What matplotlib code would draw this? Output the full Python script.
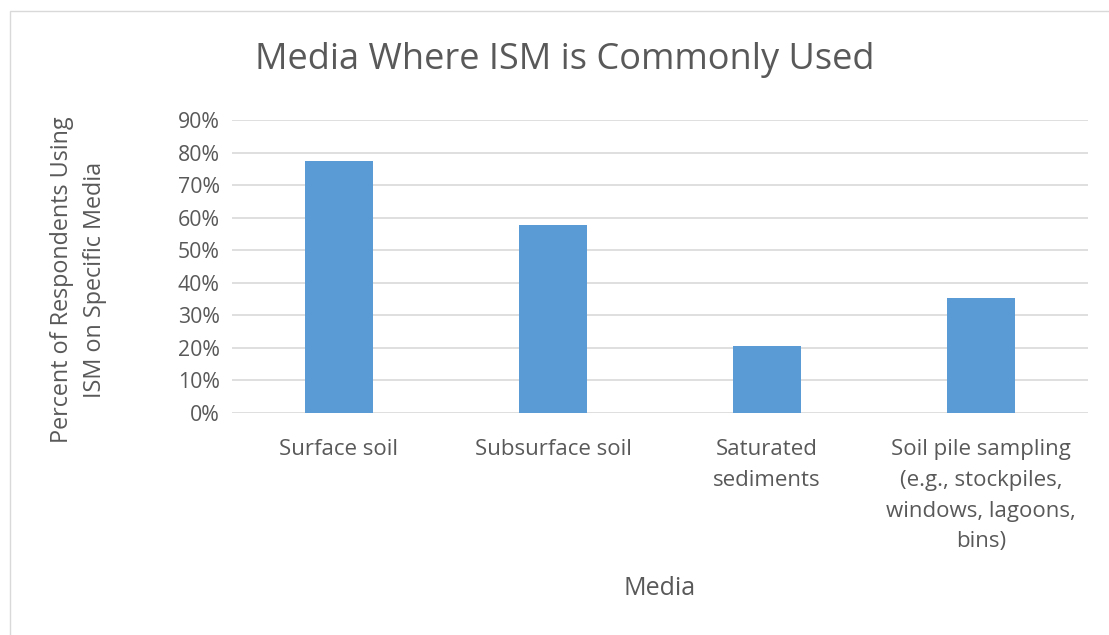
import matplotlib.pyplot as plt
from matplotlib.patches import Rectangle

# data
categories = ["Surface soil", "Subsurface soil", "Saturated\nsediments",
              "Soil pile sampling\n(e.g., stockpiles,\nwindows, lagoons,\nbins)"]
percents = [0.773, 0.578, 0.207, 0.354]
yticks = [0.0, 0.1, 0.2, 0.3, 0.4, 0.5, 0.6, 0.7, 0.8, 0.9]

plt.rcParams['font.family'] = ['Open Sans', 'DejaVu Sans']
text_col = '#595959'

fig = plt.figure(figsize=(11.09, 6.35), dpi=100)
ax = fig.add_axes([0.2092, 0.3496, 0.7718, 0.4614])

x = range(len(categories))
ax.bar(x, percents, width=0.32, color='#5B9BD5', zorder=3)

ax.set_xlim(-0.5, len(categories) - 0.5)
ax.set_ylim(0, 0.9)
ax.set_yticks(yticks)
ax.set_yticklabels([f"{int(round(v * 100))}%" for v in yticks], fontsize=15.3)
ax.set_xticks(list(x))
ax.set_xticklabels(categories, linespacing=1.6, fontsize=16)
ax.tick_params(axis='both', length=0, colors=text_col)
ax.tick_params(axis='y', pad=9)
ax.tick_params(axis='x', pad=19)
ax.grid(axis='y', color='#D9D9D9', linewidth=1.2, zorder=0)
for s in ax.spines.values():
    s.set_visible(False)

fig.text(0.595, 0.074, "Media", ha='center', va='center', fontsize=18, color=text_col)
fig.text(0.071, 0.559, "Percent of Respondents Using\nISM on Specific Media",
         rotation=90, ha='center', va='center', fontsize=16.8, color=text_col,
         linespacing=1.5)
fig.text(0.509, 0.905, "Media Where ISM is Commonly Used", ha='center', va='center',
         fontsize=26, color=text_col)

# light frame around the chart area
fig.patches.append(Rectangle((0.009, -0.01), 1.0, 0.992, transform=fig.transFigure,
                             fill=False, edgecolor='#D9D9D9', linewidth=1.0))

fig.savefig("out.png", dpi=100)
